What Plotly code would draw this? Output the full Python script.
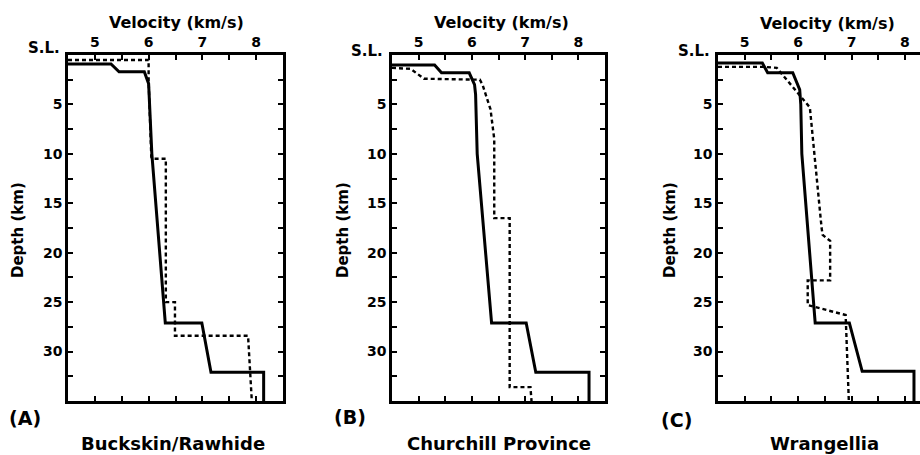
import plotly.graph_objects as go

# ---------------- data (velocity km/s, depth km) ----------------
# Panel A: Buckskin/Rawhide
a_solid_v = [4.5, 5.30, 5.45, 5.92, 6.00, 6.06, 6.31, 6.99, 7.16, 8.14, 8.14]
a_solid_d = [0.9, 0.9, 1.7, 1.7, 2.9, 10.0, 27.1, 27.1, 32.1, 32.1, 35.0]
a_dash_v = [4.5, 6.00, 6.00, 6.05, 6.07, 6.32, 6.32, 6.49, 6.49, 7.85, 7.92]
a_dash_d = [0.5, 0.5, 2.6, 10.3, 10.5, 10.5, 25.0, 25.0, 28.4, 28.4, 35.0]

# Panel B: Churchill Province
b_solid_v = [4.5, 5.30, 5.43, 5.95, 6.05, 6.07, 6.10, 6.37, 7.02, 7.20, 8.20, 8.20]
b_solid_d = [1.0, 1.0, 1.8, 1.8, 3.0, 4.0, 10.0, 27.1, 27.1, 32.1, 32.1, 35.0]
b_dash_v = [4.5, 4.85, 5.10, 6.15, 6.20, 6.35, 6.42, 6.42, 6.71, 6.71, 7.10, 7.12]
b_dash_d = [1.3, 1.4, 2.4, 2.5, 3.0, 5.5, 8.5, 16.5, 16.5, 33.6, 33.6, 35.0]

# Panel C: Wrangellia
c_solid_v = [4.5, 5.33, 5.43, 5.90, 6.03, 6.05, 6.07, 6.32, 6.96, 7.20, 8.17, 8.17]
c_solid_d = [0.8, 0.8, 1.8, 1.8, 3.5, 5.0, 10.0, 27.1, 27.1, 32.0, 32.0, 35.0]
c_dash_v = [4.5, 5.35, 5.60, 5.80, 6.05, 6.22, 6.44, 6.46, 6.60, 6.60, 6.18, 6.18, 6.89, 6.95]
c_dash_d = [1.2, 1.2, 1.3, 2.6, 4.3, 5.3, 17.5, 18.2, 18.8, 22.8, 22.8, 25.3, 26.3, 35.0]

panel_letters = ["(A)", "(B)", "(C)"]
panel_names = ["Buckskin/Rawhide", "Churchill Province", "Wrangellia"]
x_title = "Velocity (km/s)"
y_title = "Depth (km)"
sea_level_label = "S.L."
depth_ticks = [5, 10, 15, 20, 25, 30]

# ---------------- layout geometry ----------------
W, H = 920, 455
FONT = "DejaVu Sans"
plot_top, plot_bot = 55, 401
x_px = [(68, 283), (392, 605), (718, 920)]
x_ranges = [[4.5, 8.5], [4.5, 8.5], [4.5, 4.5 + (920 - 718) / 53.4]]

def px(x):
    return x / W

def py(y):
    return 1 - y / H

fig = go.Figure()
series = [
    (a_solid_v, a_solid_d, a_dash_v, a_dash_d),
    (b_solid_v, b_solid_d, b_dash_v, b_dash_d),
    (c_solid_v, c_solid_d, c_dash_v, c_dash_d),
]
for i, (sv, sd, dv, dd) in enumerate(series):
    xa = "x" if i == 0 else f"x{i+1}"
    ya = "y" if i == 0 else f"y{i+1}"
    fig.add_trace(go.Scatter(x=dv, y=dd, mode="lines", xaxis=xa, yaxis=ya,
                             line=dict(color="black", width=2.4, dash="4px,3px"),
                             hoverinfo="skip", showlegend=False))
    fig.add_trace(go.Scatter(x=sv, y=sd, mode="lines", xaxis=xa, yaxis=ya,
                             line=dict(color="black", width=3),
                             hoverinfo="skip", showlegend=False))

tickfont = dict(family=FONT, size=14, color="black", weight="bold")
layout = dict(width=W, height=H, margin=dict(l=0, r=0, t=0, b=0),
              paper_bgcolor="white", plot_bgcolor="white", showlegend=False)
for i in range(3):
    xk = "xaxis" if i == 0 else f"xaxis{i+1}"
    yk = "yaxis" if i == 0 else f"yaxis{i+1}"
    ya = "y" if i == 0 else f"y{i+1}"
    xa = "x" if i == 0 else f"x{i+1}"
    layout[xk] = dict(domain=[px(x_px[i][0]), px(x_px[i][1])], range=x_ranges[i],
                      anchor=ya, side="top", tickmode="linear", tick0=5, dtick=1,
                      ticks="inside", ticklen=5, tickwidth=2, tickcolor="black",
                      showline=True, linewidth=2.5, linecolor="black", mirror="allticks",
                      minor=dict(tickmode="linear", tick0=4.5, dtick=0.5, ticks="inside",
                                 ticklen=5, tickwidth=1.5, tickcolor="black"),
                      showgrid=False, zeroline=False, tickfont=tickfont, fixedrange=True)
    layout[yk] = dict(domain=[py(plot_bot), py(plot_top)], range=[35, 0],
                      anchor=xa, tickmode="array", tickvals=depth_ticks,
                      ticks="inside", ticklen=5, tickwidth=2, tickcolor="black",
                      showline=True, linewidth=2.5, linecolor="black",
                      mirror=("allticks" if i < 2 else False),
                      minor=dict(tickmode="linear", tick0=0, dtick=2.5, ticks="inside",
                                 ticklen=5, tickwidth=1.5, tickcolor="black"),
                      showgrid=False, zeroline=False, tickfont=tickfont, fixedrange=True)
fig.update_layout(**layout)

def ann(text, x, y, size, xanchor="center", angle=0):
    fig.add_annotation(text=text, x=px(x), y=py(y), xref="paper", yref="paper",
                       showarrow=False, xanchor=xanchor, yanchor="middle", textangle=angle,
                       font=dict(family=FONT, size=size, color="black", weight="bold"))

vel_title_pos = [(176, 22), (502, 22), (827, 23)]
sl_pos = [(62, 48), (385, 51), (712, 51)]
depth_title_pos = [(18, 230), (343, 230), (670, 230)]
letter_pos = [(25, 418), (350, 417), (676, 420)]
name_pos = [(173, 443), (499, 443), (824, 443)]
for i in range(3):
    ann(x_title, *vel_title_pos[i], 16)
    ann(sea_level_label, *sl_pos[i], 15, xanchor="right")
    ann(y_title, *depth_title_pos[i], 15, angle=-90)
    ann(panel_letters[i], *letter_pos[i], 19)
    ann(panel_names[i], *name_pos[i], 18)

fig.write_html("out.html")
